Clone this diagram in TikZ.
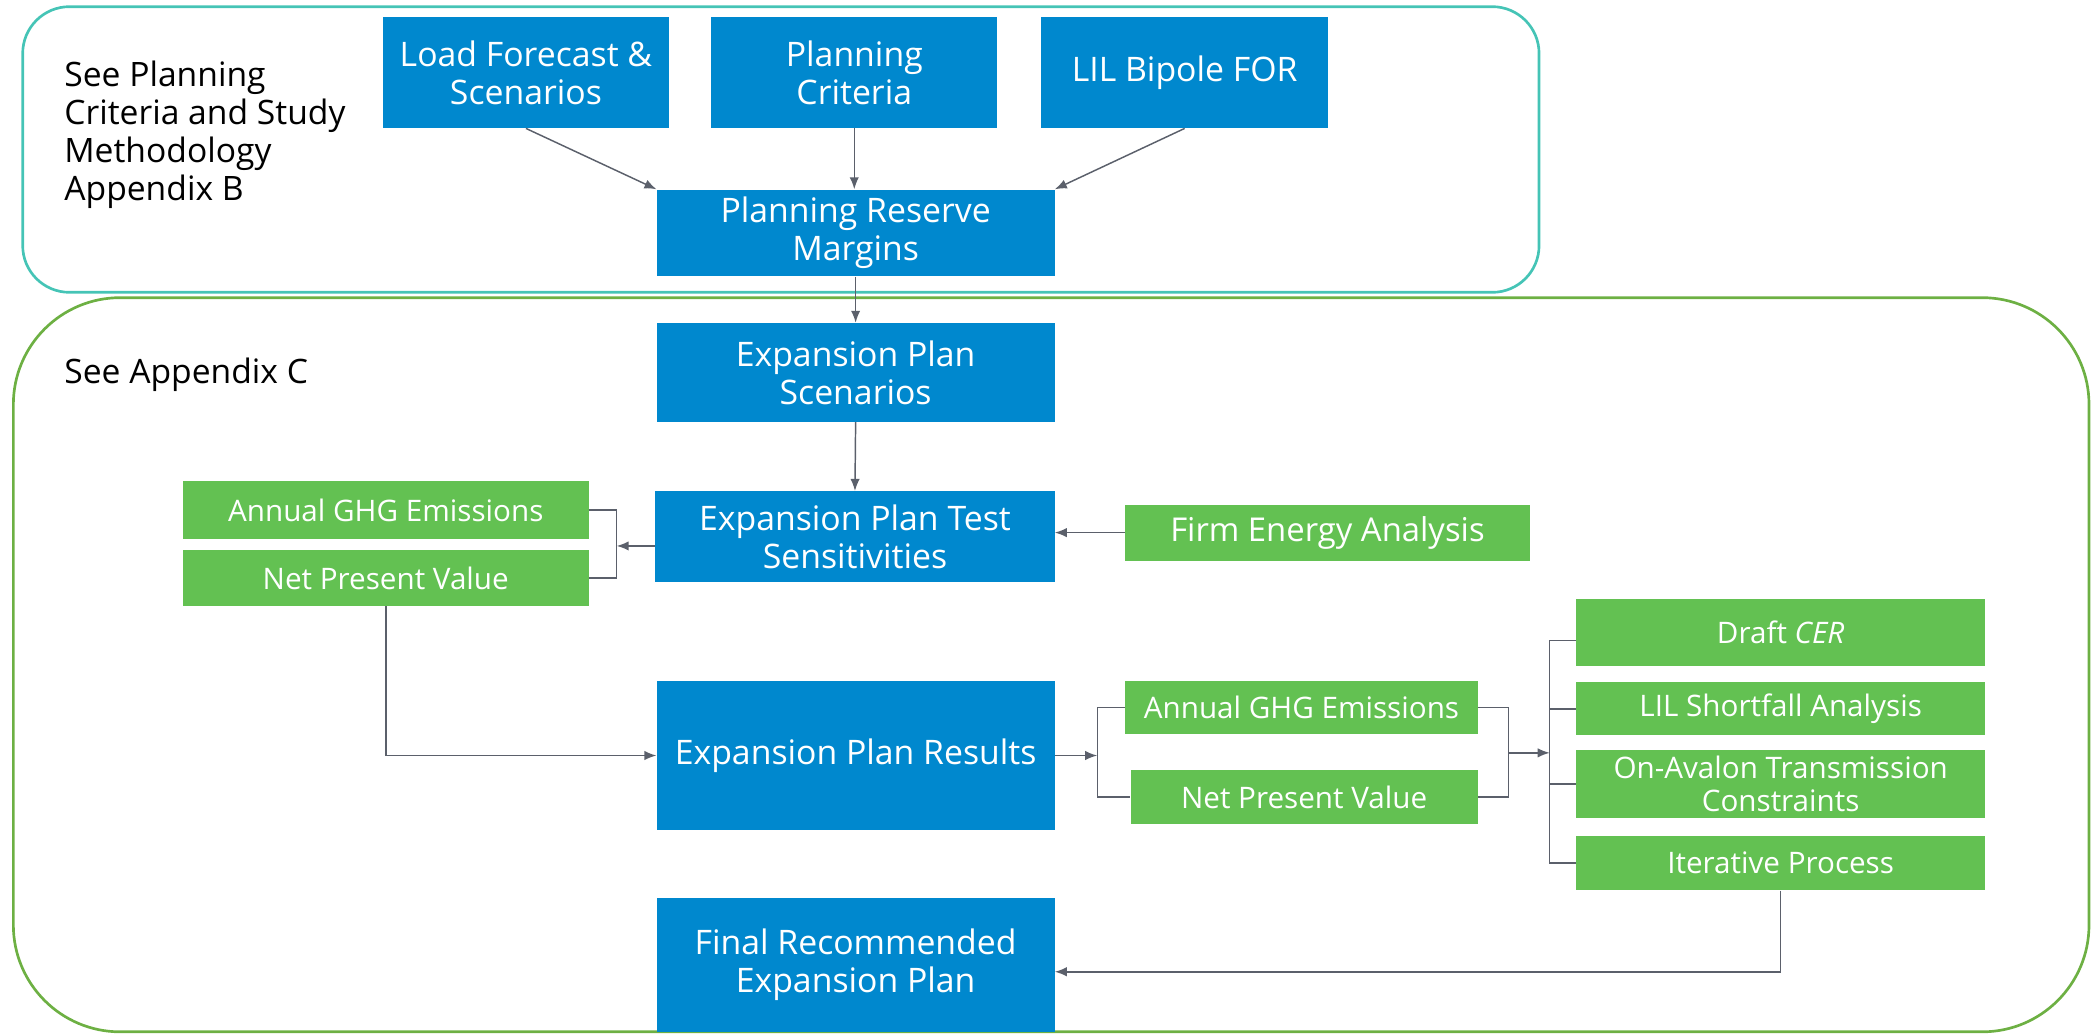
\documentclass[tikz,border=0pt]{standalone}
\usepackage{fontspec}
\setmainfont{Open Sans}
\usetikzlibrary{arrows.meta}
\definecolor{boxblue}{HTML}{0088CE}
\definecolor{boxgreen}{HTML}{63C152}
\definecolor{frameteal}{HTML}{45C4B6}
\definecolor{framegreen}{HTML}{6DB043}
\definecolor{arrowgray}{HTML}{5B606B}

\begin{document}
\begin{tikzpicture}[x=1pt,y=-1pt,
    bluebox/.style={fill=boxblue,text=white,align=center,inner sep=0pt,font=\fontsize{25.3}{28.5}\selectfont},
    greenbox/.style={fill=boxgreen,text=white,align=center,inner sep=0pt,font=\fontsize{22.2}{24.5}\selectfont},
    bigtext/.style={font=\fontsize{24.6}{28}\selectfont},
    note/.style={align=left,anchor=west,inner sep=0pt,font=\fontsize{25.2}{28.4}\selectfont},
    link/.style={draw=arrowgray,line width=1.1pt},
    arr/.style={link,-{Latex[length=9pt,width=7pt]}}]
  \useasboundingbox (0,0) rectangle (1568,774);
  % frames
  \draw[framegreen,line width=2pt,rounded corners=80pt] (10,223) rectangle (1565,773);
  \draw[frameteal,line width=2pt,rounded corners=35pt] (17,5) rectangle (1153,219);
  \node[note] (seeB) at (48,101) {See Planning\\Criteria and Study\\Methodology\\Appendix B};
  \node[note] (seeC) at (48,281) {See Appendix C};
  % blue steps
  \node[bluebox,minimum width=214pt,minimum height=83pt] (lf) at (394,54.5) {Load Forecast \&\\Scenarios};
  \node[bluebox,minimum width=214pt,minimum height=83pt] (pc) at (640,54.5) {Planning\\Criteria};
  \node[bluebox,minimum width=215pt,minimum height=83pt] (lil) at (887.5,54.5) {LIL Bipole FOR};
  \node[bluebox,minimum width=298pt,minimum height=65pt] (prm) at (641,174.5) {Planning Reserve\\Margins};
  \node[bluebox,minimum width=298pt,minimum height=74pt] (eps) at (641,279) {Expansion Plan\\Scenarios};
  \node[bluebox,minimum width=299pt,minimum height=68pt] (ets) at (640.5,402) {Expansion Plan Test\\Sensitivities};
  \node[bluebox,minimum width=298pt,minimum height=112pt] (epr) at (641,566) {Expansion Plan Results};
  \node[bluebox,minimum width=298pt,minimum height=100pt] (frp) at (641,723) {Final Recommended\\Expansion Plan};
  % green outputs
  \node[greenbox,minimum width=304pt,minimum height=44pt] (ghgA) at (289,382) {Annual GHG Emissions};
  \node[greenbox,minimum width=304pt,minimum height=42pt] (npvA) at (289,433) {Net Present Value};
  \node[greenbox,bigtext,minimum width=303pt,minimum height=42pt] (firm) at (994.5,399) {Firm Energy Analysis};
  \node[greenbox,minimum width=264pt,minimum height=40pt] (ghgB) at (975,530) {Annual GHG Emissions};
  \node[greenbox,minimum width=260pt,minimum height=40pt] (npvB) at (977,597) {Net Present Value};
  \node[greenbox,minimum width=306pt,minimum height=50pt] (cer) at (1334,474) {Draft \textit{CER}};
  \node[greenbox,minimum width=306pt,minimum height=40pt] (lsa) at (1334,531) {LIL Shortfall Analysis};
  \node[greenbox,minimum width=306pt,minimum height=51pt] (oat) at (1334,587.5) {On-Avalon Transmission\\Constraints};
  \node[greenbox,minimum width=306pt,minimum height=41pt] (itp) at (1334,646.5) {Iterative Process};
  \coordinate (bkA) at (462,409);
  \coordinate (bkB) at (822,566);
  \coordinate (bkC) at (1130,564);
  \coordinate (bkD) at (1161,564);
  \coordinate (cerIn) at ([yshift=-6pt]cer.west);
  \coordinate (frpIn) at ([yshift=-5pt]frp.east);
  % connectors
  \draw[arr] (lf.south) -- (prm.north west);
  \draw[arr] (pc.south) -- (pc.south |- prm.north);
  \draw[arr] (lil.south) -- (prm.north east);
  \draw[arr] (prm.south) -- (eps.north);
  \draw[arr] (eps.south) -- (ets.north);
  \draw[arr] (firm.west) -- (ets.east |- firm.west);
  \draw[link] (ghgA.east) -| (bkA) |- (npvA.east);
  \draw[arr] (ets.west |- bkA) -- (bkA);
  \draw[arr] (npvA.south) |- (epr.west);
  \draw[arr] (epr.east) -- (bkB);
  \draw[link] (ghgB.west) -| (bkB) |- (npvB.west);
  \draw[link] (ghgB.east) -| (bkC) |- (npvB.east);
  \draw[arr] (bkC) -- (bkD);
  \draw[link] (cerIn) -| (bkD) |- (itp.west);
  \foreach \n in {lsa,oat}
    \draw[link] (bkD |- \n.west) -- (\n.west);
  \draw[arr] (itp.south) |- (frpIn);
\end{tikzpicture}
\end{document}
